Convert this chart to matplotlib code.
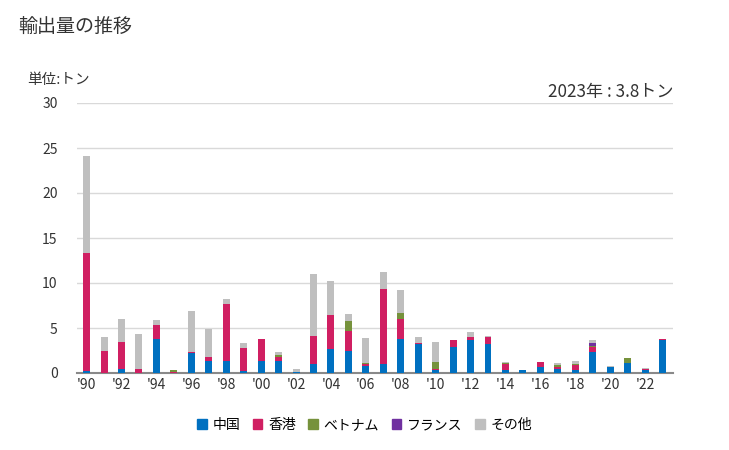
import numpy as np
import matplotlib.pyplot as plt
from matplotlib.patches import Patch

plt.rcParams['font.family'] = ['Noto Sans CJK JP', 'DejaVu Sans']

years = list(range(1990, 2024))
# tonnes per year and destination
china = [0.2, 0, 0.4, 0, 3.75, 0, 2.2, 1.3, 1.3, 0.25, 1.37, 1.3, 0.1, 1.05, 2.65, 2.4, 0.8,
         1.05, 3.8, 3.25, 0.37, 2.9, 3.7, 3.25, 0.33, 0.33, 0.67, 0.45, 0.33, 2.33, 0.67, 1.1, 0.33, 3.7]
hongkong = [13.1, 2.4, 3.1, 0.5, 1.6, 0.15, 0.1, 0.5, 6.4, 2.55, 2.45, 0.5, 0, 3.05, 3.8, 2.3, 0.23,
            8.3, 2.2, 0.07, 0.1, 0.75, 0.3, 0.75, 0.67, 0, 0.55, 0.22, 0.55, 0.55, 0, 0, 0.1, 0.1]
vietnam = [0, 0, 0, 0, 0, 0.2, 0, 0, 0, 0, 0, 0.23, 0, 0, 0, 1.1, 0.07,
           0, 0.65, 0, 0.75, 0, 0, 0, 0.1, 0, 0, 0.22, 0.1, 0.1, 0, 0.55, 0, 0]
france = [0, 0, 0, 0, 0, 0, 0, 0, 0, 0, 0, 0, 0, 0, 0, 0, 0,
          0, 0, 0, 0, 0, 0, 0, 0, 0, 0, 0, 0, 0.33, 0, 0, 0, 0]
others = [10.8, 1.55, 2.55, 3.8, 0.55, 0, 4.6, 3.1, 0.55, 0.55, 0, 0.33, 0.35, 6.9, 3.8, 0.8, 2.8,
          1.9, 2.55, 0.67, 2.2, 0, 0.55, 0.1, 0.1, 0, 0, 0.22, 0.33, 0.33, 0.1, 0, 0.1, 0]

series = [('中国', china, '#0070C0'),
          ('香港', hongkong, '#D01F62'),
          ('ベトナム', vietnam, '#76923C'),
          ('フランス', france, '#7030A0'),
          ('その他', others, '#BFBFBF')]

fig = plt.figure(figsize=(7.29, 4.5), dpi=100)
ax = fig.add_axes([77/729, 1-373/450, 596/729, 270/450])

x = np.arange(len(years))
bottom = np.zeros(len(years))
for name, vals, col in series:
    v = np.array(vals)
    ax.bar(x, v, bottom=bottom, width=0.4, color=col, zorder=3)
    bottom += v

ax.set_xlim(-0.55, len(years) - 0.4)
ax.set_ylim(0, 30)
ax.set_yticks(range(0, 31, 5))
ax.set_xticks(x[::2])
ax.set_xticklabels(["'" + str(y)[2:] for y in years[::2]])
ax.grid(axis='y', color='#d9d9d9', linewidth=1, zorder=0)
for s in ['top', 'right', 'left']:
    ax.spines[s].set_visible(False)
ax.spines['bottom'].set_color('#898989')
ax.spines['bottom'].set_linewidth(1.5)
ax.tick_params(length=0, labelsize=10, colors='#333333')
ax.tick_params(axis='y', pad=14)

fig.text(18/729, 1-27/450, '輸出量の推移', fontsize=13.7, va='center', color='#333333')
fig.text(27/729, 1-80/450, '単位:トン', fontsize=10.5, va='center', color='#333333')
fig.text(673/729, 1-92/450, '2023年 : 3.8トン', fontsize=12.3, va='center', ha='right', color='#333333')

handles = [Patch(color=c, label=n) for n, _, c in series]
fig.legend(handles=handles, loc='center', bbox_to_anchor=(0.5, 1-425/450), ncol=5, frameon=False,
           fontsize=10, handlelength=0.7, handleheight=0.7, handletextpad=0.4, columnspacing=0.9)

fig.savefig('out.png', dpi=100)
